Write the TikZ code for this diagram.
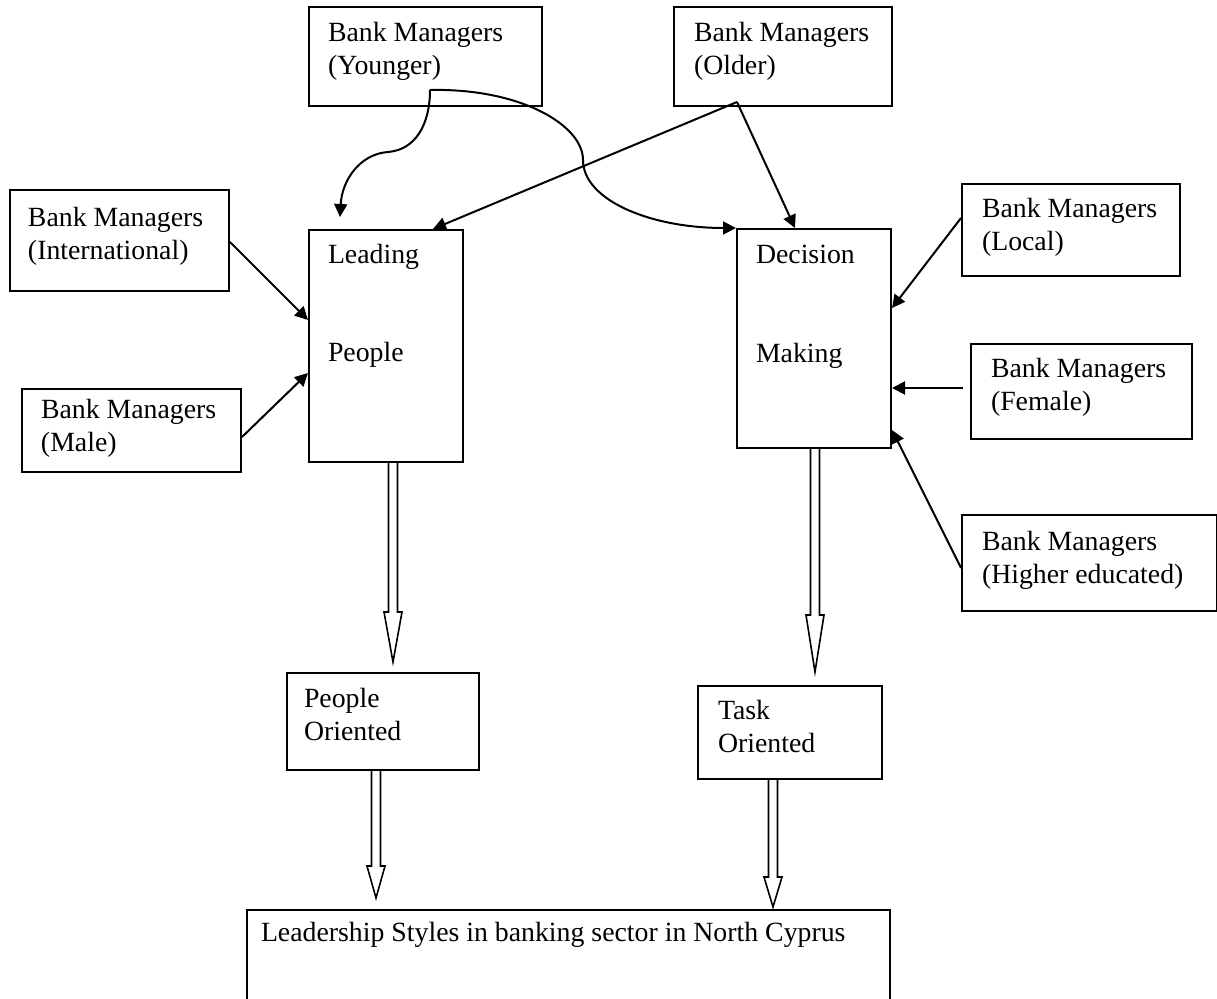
\documentclass[tikz,border=0pt]{standalone}
\usepackage{fontspec}
\setmainfont{Liberation Serif}
\usetikzlibrary{calc,arrows.meta}
\newcommand\boxtext[5]{\parbox[c][#2][t]{#1}{\raggedright\setlength\leftskip{#3}\rule{0pt}{#4}#5}}
\begin{document}
\begin{tikzpicture}[x=0.5pt,y=-0.5pt,
  box/.style={draw, line width=1pt, inner sep=0pt, anchor=north west,
    font=\fontsize{13.9pt}{16.5pt}\selectfont},
  arr/.style={line width=1pt, -{Triangle[length=6.5pt,width=6.5pt]}},
  bigarrow/.style={line width=0.8pt, line join=miter,
    to path={let \p1=(\tikztostart), \p2=(\tikztotarget) in
      (\x1-2.25pt,\y1) -- (\x1-2.25pt,\y2+#1) -- (\x1-4.5pt,\y2+#1) -- (\tikztotarget)
      -- (\x1+4.5pt,\y2+#1) -- (\x1+2.25pt,\y2+#1) -- (\x1+2.25pt,\y1)}}]
\useasboundingbox (0,0) rectangle (1217,999);

% boxes
\node[box] (yng) at (308,6) {\boxtext{116.5pt}{49.5pt}{9.5pt}{17.5pt}{Bank Managers\\(Younger)}};
\node[box] (old) at (673,6) {\boxtext{109pt}{49.5pt}{10pt}{17.5pt}{Bank Managers\\(Older)}};
\node[box] (intl) at (9,189) {\boxtext{109.5pt}{50.5pt}{9pt}{18.5pt}{Bank Managers\\(International)}};
\node[box] (male) at (21,388) {\boxtext{109.5pt}{41.5pt}{9.5pt}{15pt}{Bank Managers\\(Male)}};
\node[box] (lead) at (308,229) {\boxtext{77pt}{116pt}{9.5pt}{17pt}{Leading\\[32.5pt]People}};
\node[box] (dec) at (736,228) {\boxtext{77pt}{109.5pt}{9.5pt}{17.5pt}{Decision\\[33pt]Making}};
\node[box] (loc) at (961,183) {\boxtext{109pt}{46pt}{10pt}{17pt}{Bank Managers\\(Local)}};
\node[box] (fem) at (970,343) {\boxtext{110.5pt}{47.5pt}{10pt}{17pt}{Bank Managers\\(Female)}};
\node[box] (high) at (961,514) {\boxtext{127.5pt}{48pt}{10pt}{18pt}{Bank Managers\\(Higher educated)}};
\node[box] (po) at (286,672) {\boxtext{96pt}{48.5pt}{8.5pt}{17.5pt}{People\\Oriented}};
\node[box] (to) at (697,685) {\boxtext{92pt}{46.5pt}{10pt}{17pt}{Task\\Oriented}};
\node[box] (ls) at (246,909) {\boxtext{321.5pt}{50.5pt}{7pt}{15.5pt}{Leadership Styles in banking sector in North Cyprus}};

% curved arrows from Younger
\coordinate (ys) at ($(yng.south west)+(122,-17)$);
\draw[arr] (ys) .. controls (430,125) and (415,150) .. (388,152)
  .. controls (360,154) and (342,180) .. ($(lead.north west)+(32,-12)$);
\draw[arr] (ys) .. controls (520,88) and (583,125) .. (583,160)
  .. controls (583,200) and (650,228) .. (dec.north west);

% arrows from Older
\coordinate (os) at ($(old.south west)+(64,-5)$);
\draw[arr] (os) -- ($(lead.north west)+(125,0)$);
\draw[arr] (os) -- ($(dec.north west)+(59,0)$);

% left inputs
\draw[arr] ($(intl.north east)+(0,53)$) -- ($(lead.north west)+(0,91)$);
\draw[arr] ($(male.north east)+(0,49)$) -- ($(lead.north west)+(0,144)$);

% right inputs
\draw[arr] ($(loc.north west)+(0,35)$) -- ($(dec.north east)+(0,80)$);
\draw[arr] ($(fem.north west)+(-7,45)$) -- ($(dec.north east)+(0,160)$);
\draw[arr] ($(high.north west)+(0,54)$) -- ($(dec.north east)+(0,202)$);

% hollow block arrows
\coordinate (t1) at (393,662);
\coordinate (t2) at (815,672);
\coordinate (t3) at (376,898);
\coordinate (t4) at (773,907);
\draw[bigarrow=25pt] (lead.south -| t1) to (t1);
\draw[bigarrow=28.5pt] (dec.south -| t2) to (t2);
\draw[bigarrow=16pt] (po.south -| t3) to (t3);
\draw[bigarrow=15pt] (to.south -| t4) to (t4);
\end{tikzpicture}
\end{document}
